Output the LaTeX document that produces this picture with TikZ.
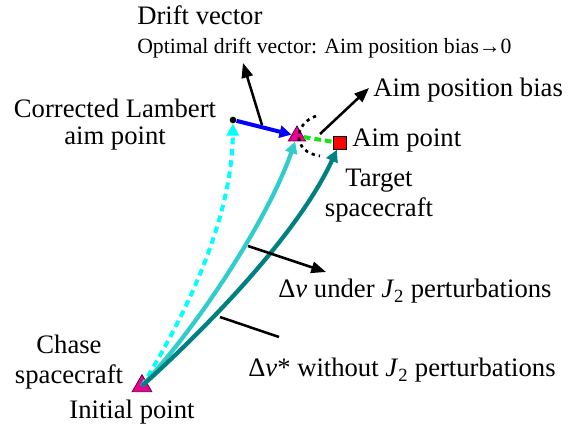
\documentclass[tikz,border=0pt]{standalone}
\usepackage{fontspec}
\setmainfont{Liberation Serif}
\usetikzlibrary{arrows.meta,shapes.geometric}
\definecolor{turq}{RGB}{51,204,204}
\definecolor{tealc}{RGB}{0,128,128}
\definecolor{brightgreen}{RGB}{20,230,20}
\definecolor{cyanc}{RGB}{0,255,255}
\begin{document}
\begin{tikzpicture}[x=0.75pt,y=-0.75pt,
  lbl/.style={inner sep=0pt, font=\fontsize{20}{22.5}\selectfont},
  trimark/.style={regular polygon, regular polygon sides=3, fill=magenta, draw=violet!70!black, line width=0.6pt, inner sep=0pt},
  curvearrow/.style={line width=3.2pt, -{Triangle[length=9pt,width=9pt]}},
  blkarrow/.style={line width=1.9pt, -{Triangle[length=11pt,width=8.5pt]}},
]
\useasboundingbox (0,0) rectangle (569,428);

% markers
\node[trimark, minimum size=17pt] (init) at (142,386) {};
\node[trimark, minimum size=15pt] (tri) at (297,136) {};
\node[fill=red, draw=black, line width=0.6pt, minimum size=9.5pt, inner sep=0pt] (sq) at (340,143) {};
\node[circle, fill=black, minimum size=5pt, inner sep=0pt] (dot) at (233,120) {};

% dotted arc around the aim point
\draw[line width=2pt, dash pattern=on 2.5pt off 3pt] (316,116) .. controls (293,124) and (292,152) .. (320,156);

% green dashed bias
\draw[brightgreen, line width=3pt, dash pattern=on 5pt off 3pt] (tri) -- (sq);

% blue drift line
\draw[blue, line width=3pt, -{Triangle[length=9pt,width=9pt]}] (dot) -- (tri);

% trajectories
\draw[cyanc, line width=3pt, dash pattern=on 5pt off 3.5pt, -{Triangle[length=9pt,width=9pt]}]
  (init.center) .. controls (195,300) and (232,210) .. (dot);
\draw[turq, curvearrow] (init.center) .. controls (195,330) and (268,220) .. (tri);
\draw[tealc, curvearrow] (init.center) .. controls (215,320) and (300,230) .. (sq);

% black arrows
\coordinate (dstart) at (262,125);
\coordinate (dtip) at (243,63);
\draw[blkarrow] (dstart) -- (dtip);
\coordinate (bstart) at (320,134);
\coordinate (btip) at (369,88);
\draw[blkarrow] (bstart) -- (btip);
\coordinate (l1a) at (248,246);
\coordinate (l1b) at (326,272);
\draw[blkarrow] (l1a) -- (l1b);
\coordinate (l2a) at (220,317);
\coordinate (l2b) at (279,337);
\draw[line width=1.9pt] (l2a) -- (l2b);

% labels
\node[lbl, anchor=base west] (drift) at (137,25) {Drift vector};
\node[inner sep=0pt, anchor=base west, font=\fontsize{16.3}{19}\selectfont] (opt) at (137,54) {Optimal drift vector: Aim position bias→0};
\node[lbl, anchor=base west] (apb) at (373,97) {Aim position bias};
\node[lbl, anchor=base west] (aimpt) at (352,147) {Aim point};
\node[lbl, align=center, anchor=base] (target) at (379,217) {Target\\spacecraft};
\node[lbl, align=center, anchor=base, font=\fontsize{20}{20.5}\selectfont] (lambert) at (115,145) {Corrected Lambert\\aim point};
\node[lbl, align=center, anchor=base] (chase) at (69,383) {Chase\\spacecraft};
\node[lbl, anchor=base] (initlbl) at (132,418) {Initial point};
\node[lbl, anchor=base west] (dv) at (278,298) {Δ\textit{v} under \textit{J}\textsubscript{2} perturbations};
\node[lbl, anchor=base west] (dvs) at (248,377) {Δ\textit{v}* without \textit{J}\textsubscript{2} perturbations};
\end{tikzpicture}
\end{document}
